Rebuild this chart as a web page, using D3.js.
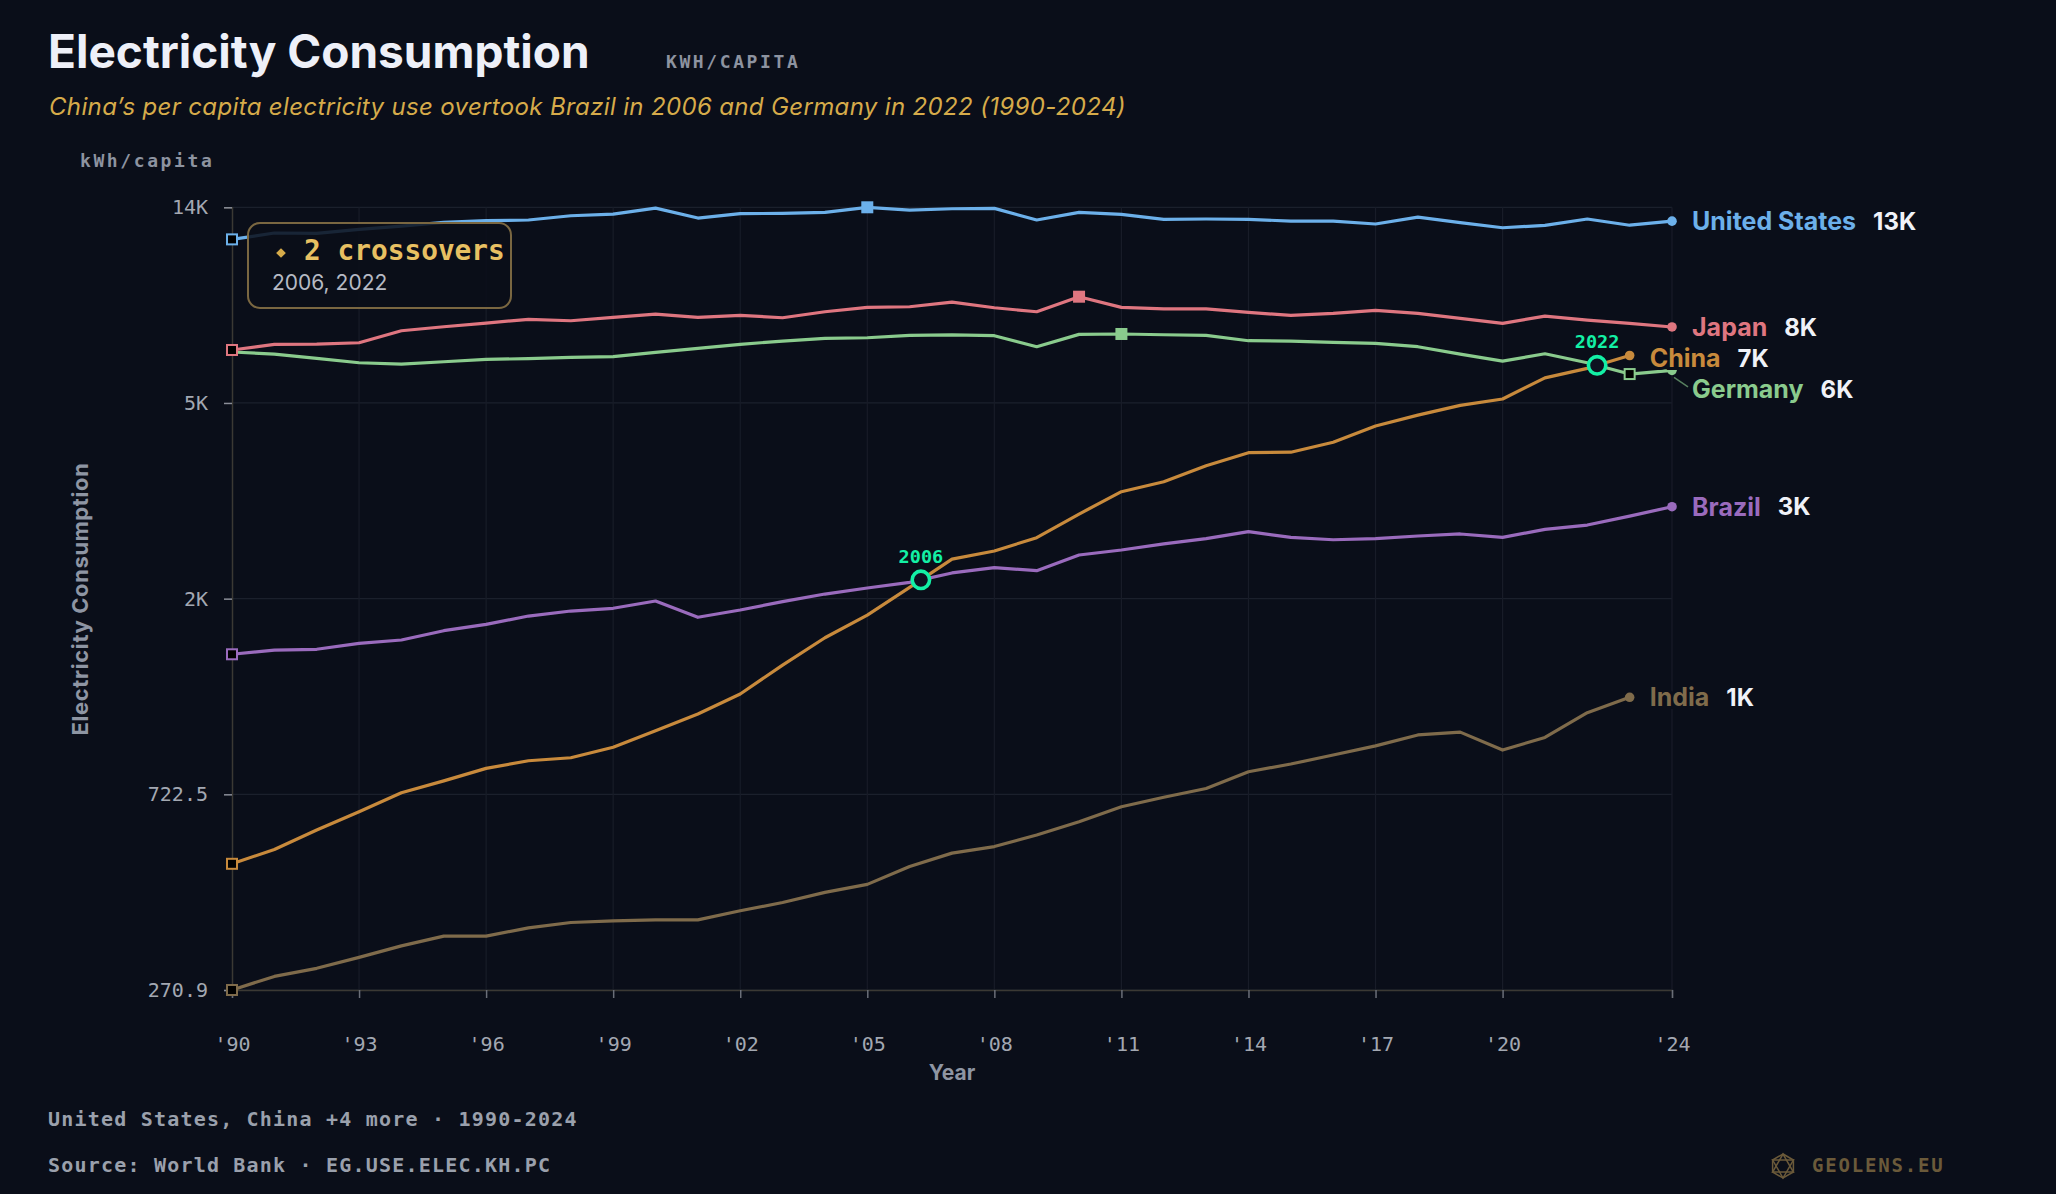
<!DOCTYPE html>
<html>
<head>
<meta charset="utf-8">
<script src="https://cdn.jsdelivr.net/npm/d3@7"></script>
<style>
  body { margin: 0; background: #0a0e19; }
  svg { display: block; }
</style>
</head>
<body>
<div id="chart"></div>
<script>
// ---- data (kWh per capita) ----
var years = [1990, 1991, 1992, 1993, 1994, 1995, 1996, 1997, 1998, 1999,
             2000, 2001, 2002, 2003, 2004, 2005, 2006, 2007, 2008, 2009,
             2010, 2011, 2012, 2013, 2014, 2015, 2016, 2017, 2018, 2019,
             2020, 2021, 2022, 2023, 2024];

var usValues = [11671, 12050, 12028, 12272, 12478, 12711, 12820, 12861, 13139, 13250,
                13654, 12987, 13275, 13300, 13366, 13707, 13518, 13607, 13635, 12861,
                13366, 13233, 12905, 12925, 12905, 12788, 12788, 12605, 13052, 12690,
                12373, 12517, 12925, 12530, 12788];
var japanValues = [6703, 6897, 6906, 6951, 7382, 7531, 7672, 7815, 7761, 7894,
                   8027, 7894, 7973, 7878, 8119, 8298, 8325, 8520, 8284, 8119,
                   8756, 8298, 8241, 8241, 8092, 7973, 8054, 8176, 8054, 7853,
                   7661, 7946, 7788, 7661, 7523];
var germanyValues = [6635, 6568, 6428, 6288, 6247, 6320, 6396, 6417, 6461, 6482,
                     6624, 6759, 6897, 7009, 7106, 7128, 7214, 7228, 7200, 6814,
                     7249, 7263, 7236, 7214, 7022, 7009, 6965, 6930, 6814, 6568,
                     6341, 6578, 6288, 5941, 6052];
var chinaValues = [510, 548, 604, 662, 728, 773, 823, 855, 868, 915,
                   994, 1081, 1195, 1381, 1584, 1775, 2039, 2350, 2447, 2616,
                   2945, 3294, 3463, 3752, 4006, 4015, 4220, 4578, 4836, 5079,
                   5242, 5830, 6114, 6520];
var brazilValues = [1458, 1489, 1495, 1540, 1566, 1641, 1694, 1766, 1811, 1836,
                    1904, 1755, 1820, 1898, 1972, 2033, 2091, 2192, 2251, 2217,
                    2398, 2459, 2535, 2603, 2696, 2620, 2589, 2603, 2638, 2665,
                    2620, 2727, 2787, 2915, 3055];
var indiaValues = [270.9, 290, 302, 319, 338, 355, 355, 370, 380, 383,
                   385, 385, 403, 420, 442, 460, 503, 538, 556, 589,
                   630, 679, 712, 744, 809, 841, 880, 921, 973, 987,
                   902, 961, 1088, 1175];

var seriesNames  = ["India", "Brazil", "Germany", "China", "Japan", "United States"];
var seriesValues = [indiaValues, brazilValues, germanyValues, chinaValues, japanValues, usValues];
var seriesColors = ["#7f6b4b", "#9a6bbd", "#8acb8d", "#c88a3c", "#df7680", "#6cb0ea"];

var yTicks      = [270.9, 722.5, 1927, 5140, 13707];
var yTickLabels = ["270.9", "722.5", "2K", "5K", "14K"];
var xTicks      = [1990, 1993, 1996, 1999, 2002, 2005, 2008, 2011, 2014, 2017, 2020, 2024];

var crossPairs = [["China", "Brazil"], ["China", "Germany"]];

// ---- setup ----
var W = 2056, H = 1194;
var bg = "#0a0e19";
var sans = "Inter, 'Noto Sans', sans-serif";
var mono = "'DejaVu Sans Mono', monospace";

var svg = d3.select("#chart").append("svg")
    .attr("width", W)
    .attr("height", H)
    .style("background", bg);

var x = d3.scaleLinear().domain([1990, 2024]).range([232, 1672]);
var allVals = d3.merge(seriesValues);
var y = d3.scaleLog().domain(d3.extent(allVals)).range([990, 207.3]);

var series = seriesNames.map(function (name, i) {
    return {
        name: name,
        color: seriesColors[i],
        points: seriesValues[i].map(function (v, j) { return { year: years[j], value: v }; })
    };
});
var byName = {};
series.forEach(function (s) { byName[s.name] = s; });

// ---- header ----
svg.append("text").attr("x", 48).attr("y", 68)
    .attr("font-family", sans).attr("font-weight", 700).attr("font-size", 46)
    .attr("fill", "#eef0f8").text("Electricity Consumption");
svg.append("text").attr("x", 666).attr("y", 68)
    .attr("font-family", mono).attr("font-weight", 700).attr("font-size", 18)
    .attr("letter-spacing", 2.6).attr("fill", "#8d93a0").text("KWH/CAPITA");
svg.append("text").attr("x", 49).attr("y", 115)
    .attr("font-family", sans).attr("font-style", "italic").attr("font-size", 24)
    .attr("letter-spacing", 0.35).attr("fill", "#d6ab4a")
    .text("China\u2019s per capita electricity use overtook Brazil in 2006 and Germany in 2022 (1990-2024)");
svg.append("text").attr("x", 80).attr("y", 167)
    .attr("font-family", mono).attr("font-weight", 700).attr("font-size", 18)
    .attr("letter-spacing", 2.6).attr("fill", "#8d93a0").text("kWh/capita");

// ---- grid ----
var grid = svg.append("g");
grid.selectAll(".hg").data(yTicks).enter().append("line")
    .attr("x1", 232).attr("x2", 1672)
    .attr("y1", function (d) { return y(d); }).attr("y2", function (d) { return y(d); })
    .attr("stroke", "#1b202c").attr("stroke-width", 1.2);
grid.selectAll(".vg").data(xTicks.slice(1)).enter().append("line")
    .attr("y1", 207.3).attr("y2", 990)
    .attr("x1", function (d) { return x(d); }).attr("x2", function (d) { return x(d); })
    .attr("stroke", "#181c28").attr("stroke-width", 1.2);

// ---- axes ----
var yAxis = svg.append("g").attr("transform", "translate(232,0)")
    .call(d3.axisLeft(y).tickValues(yTicks).tickSize(8).tickPadding(16)
        .tickFormat(function (d, i) { return yTickLabels[i]; }));
var xAxis = svg.append("g").attr("transform", "translate(0,990)")
    .call(d3.axisBottom(x).tickValues(xTicks).tickSize(8).tickPadding(39)
        .tickFormat(function (d) { return "'" + String(d).slice(2); }));
[yAxis, xAxis].forEach(function (a) {
    a.select(".domain").attr("stroke", "#3b3934").attr("stroke-width", 1.5);
    a.selectAll(".tick line").attr("stroke", "#6a6e78").attr("stroke-width", 1.5);
    a.selectAll(".tick text").attr("font-family", mono).attr("font-size", 20)
        .attr("fill", "#a3a8b2");
});
yAxis.selectAll(".tick line").attr("stroke", "#8a8e98");

svg.append("text").attr("x", 952).attr("y", 1080).attr("text-anchor", "middle")
    .attr("font-family", sans).attr("font-weight", 700).attr("font-size", 21)
    .attr("fill", "#8e95a3").text("Year");
svg.append("text").attr("transform", "translate(88,599) rotate(-90)")
    .attr("text-anchor", "middle")
    .attr("font-family", sans).attr("font-weight", 700).attr("font-size", 22)
    .attr("letter-spacing", 0.6)
    .attr("fill", "#8e95a3").text("Electricity Consumption");

// ---- lines ----
var line = d3.line()
    .x(function (d) { return x(d.year); })
    .y(function (d) { return y(d.value); });

svg.append("g").selectAll("path").data(series).enter().append("path")
    .attr("d", function (d) { return line(d.points); })
    .attr("fill", "none")
    .attr("stroke", function (d) { return d.color; })
    .attr("stroke-width", 3.2)
    .attr("stroke-linejoin", "round");

// min (hollow) / max (filled) squares, skipped on the last point
var marks = [];
series.forEach(function (s) {
    var n = s.points.length;
    var iMin = d3.minIndex(s.points, function (p) { return p.value; });
    var iMax = d3.maxIndex(s.points, function (p) { return p.value; });
    if (iMin !== n - 1) marks.push({ s: s, p: s.points[iMin], filled: false });
    if (iMax !== n - 1) marks.push({ s: s, p: s.points[iMax], filled: true });
});
svg.append("g").selectAll("rect").data(marks).enter().append("rect")
    .attr("x", function (d) { return x(d.p.year) - 5; })
    .attr("y", function (d) { return y(d.p.value) - 5; })
    .attr("width", 10).attr("height", 10)
    .attr("fill", function (d) { return d.filled ? d.s.color : "#000"; })
    .attr("stroke", function (d) { return d.s.color; })
    .attr("stroke-width", 2);

// end dots
svg.append("g").selectAll("circle").data(series).enter().append("circle")
    .attr("cx", function (d) { return x(d.points[d.points.length - 1].year); })
    .attr("cy", function (d) { return y(d.points[d.points.length - 1].value); })
    .attr("r", 4.8)
    .attr("fill", function (d) { return d.color; });

// ---- end labels with simple collision push-down ----
var labels = series.map(function (s) {
    var last = s.points[s.points.length - 1];
    return { s: s, last: last, x0: x(last.year), y0: y(last.value), ly: y(last.value) };
}).sort(function (a, b) { return a.y0 - b.y0; });
for (var i = 1; i < labels.length; i++) {
    labels[i].ly = Math.max(labels[i].ly, labels[i - 1].ly + 31);
}
var lab = svg.append("g").selectAll("g").data(labels).enter().append("g");
lab.filter(function (d) { return d.ly - d.y0 > 8; }).append("line")
    .attr("x1", function (d) { return d.x0 + 2; }).attr("y1", function (d) { return d.y0 + 7; })
    .attr("x2", function (d) { return d.x0 + 16; }).attr("y2", function (d) { return d.ly - 2; })
    .attr("stroke", function (d) { return d.s.color; }).attr("stroke-opacity", 0.6)
    .attr("stroke-width", 1.5);
lab.append("text")
    .attr("x", function (d) { return d.x0 + 20; })
    .attr("y", function (d) { return d.ly; })
    .attr("dy", "0.36em")
    .attr("font-family", sans).attr("font-weight", 700).attr("font-size", 25)
    .attr("fill", function (d) { return d.s.color; })
    .attr("stroke", bg).attr("stroke-width", 6).attr("paint-order", "stroke")
    .text(function (d) { return d.s.name; })
    .each(function (d) { d.w = this.getComputedTextLength(); });
lab.append("text")
    .attr("x", function (d) { return d.x0 + 20 + d.w + 17; })
    .attr("y", function (d) { return d.ly; })
    .attr("dy", "0.36em")
    .attr("font-family", sans).attr("font-weight", 700).attr("font-size", 24)
    .attr("fill", "#f0f2f8")
    .attr("stroke", bg).attr("stroke-width", 6).attr("paint-order", "stroke")
    .text(function (d) { return Math.round(d.last.value / 1000) + "K"; });

// ---- crossovers ----
var crosses = [];
crossPairs.forEach(function (pair) {
    var a = byName[pair[0]].points, b = byName[pair[1]].points;
    var n = Math.min(a.length, b.length);
    for (var j = 0; j < n - 1; j++) {
        var d0 = y(a[j].value) - y(b[j].value), d1 = y(a[j + 1].value) - y(b[j + 1].value);
        if (d0 > 0 && d1 <= 0) {
            var t = d0 / (d0 - d1);
            var px = x(a[j].year) + t * (x(a[j + 1].year) - x(a[j].year));
            var py = y(a[j].value) + t * (y(a[j + 1].value) - y(a[j].value));
            crosses.push({ year: a[j].year, px: px, py: py });
        }
    }
});
var cg = svg.append("g").selectAll("g").data(crosses).enter().append("g");
cg.append("circle")
    .attr("cx", function (d) { return d.px; }).attr("cy", function (d) { return d.py; })
    .attr("r", 8.7).attr("fill", "#0d1220")
    .attr("stroke", "#13f0a5").attr("stroke-width", 3.6);
cg.append("text")
    .attr("x", function (d) { return d.px; }).attr("y", function (d) { return d.py - 17; })
    .attr("text-anchor", "middle")
    .attr("font-family", mono).attr("font-weight", 700).attr("font-size", 18.5)
    .attr("fill", "#13f0a5")
    .text(function (d) { return d.year; });

// summary box
var box = svg.append("g");
box.append("rect").attr("x", 248).attr("y", 223).attr("width", 263).attr("height", 85)
    .attr("rx", 12).attr("fill", "rgba(10,14,25,0.86)")
    .attr("stroke", "#7a6741").attr("stroke-width", 2);
box.append("path").attr("d", d3.symbol().type(d3.symbolDiamond2).size(60)())
    .attr("transform", "translate(281,253)").attr("fill", "#d6ab4a");
box.append("text").attr("x", 304).attr("y", 260)
    .attr("font-family", mono).attr("font-weight", 700).attr("font-size", 27.8)
    .attr("fill", "#e8c062").text(crosses.length + " crossovers");
box.append("text").attr("x", 272).attr("y", 290)
    .attr("font-family", sans).attr("font-size", 21)
    .attr("fill", "#b6bac4").text(crosses.map(function (d) { return d.year; }).join(", "));

// ---- footer ----
svg.append("text").attr("x", 48).attr("y", 1126)
    .attr("font-family", mono).attr("font-weight", 700).attr("font-size", 20)
    .attr("letter-spacing", 1.2).attr("fill", "#9aa0ac")
    .text("United States, China +4 more \u00b7 1990-2024");
svg.append("text").attr("x", 48).attr("y", 1172)
    .attr("font-family", mono).attr("font-weight", 700).attr("font-size", 20)
    .attr("letter-spacing", 1.2).attr("fill", "#9aa0ac")
    .text("Source: World Bank \u00b7 EG.USE.ELEC.KH.PC");

var logo = svg.append("g").attr("transform", "translate(1783,1166)")
    .attr("fill", "none").attr("stroke", "#6b5a3a").attr("stroke-width", 1.5);
var hex = d3.range(6).map(function (k) {
    var a = Math.PI / 3 * k - Math.PI / 2;
    return [12 * Math.cos(a), 12 * Math.sin(a)];
});
logo.append("path").attr("d", "M" + hex.join("L") + "Z");
logo.append("path").attr("d", "M" + hex[0] + "L" + hex[2] + "L" + hex[4] + "Z");
logo.append("path").attr("d", "M" + hex[1] + "L" + hex[3] + "L" + hex[5] + "Z");
svg.append("text").attr("x", 1812).attr("y", 1172)
    .attr("font-family", mono).attr("font-weight", 700).attr("font-size", 19)
    .attr("letter-spacing", 1.8).attr("fill", "#6b5a3a").text("GEOLENS.EU");
</script>
</body>
</html>
